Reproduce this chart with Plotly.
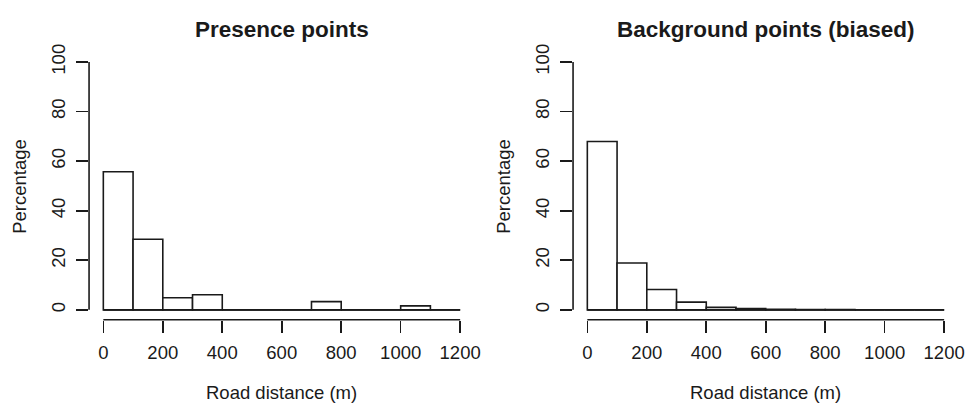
import plotly.graph_objects as go

# Histogram data (percentage per 100 m bin)
bin_edges = [0, 100, 200, 300, 400, 500, 600, 700, 800, 900, 1000, 1100, 1200]
presence_pct = [55.7, 28.5, 4.9, 6.1, 0, 0, 0, 3.3, 0, 0, 1.6, 0]
background_pct = [67.9, 18.9, 8.2, 3.1, 1.0, 0.5, 0.2, 0.1, 0.1, 0.0, 0.0, 0.0]
x_ticks = [0, 200, 400, 600, 800, 1000, 1200]
y_ticks = [0, 20, 40, 60, 80, 100]
titles = ["Presence points", "Background points (biased)"]
x_title = "Road distance (m)"
y_title = "Percentage"

FONT = "Liberation Sans, Arial, sans-serif"
INK = "#1a1a1a"
LW = 1.6

centers = [(a + b) / 2 for a, b in zip(bin_edges[:-1], bin_edges[1:])]
widths = [b - a for a, b in zip(bin_edges[:-1], bin_edges[1:])]

fig = go.Figure()

panels = [
    dict(vals=presence_pct, xa="x", ya="y", xdom=[0.0920, 0.4901]),
    dict(vals=background_pct, xa="x2", ya="y2", xdom=[0.5920, 0.9901]),
]
ydom = [0.2167, 0.8892]

for i, p in enumerate(panels):
    fig.add_trace(go.Bar(
        x=centers, y=p["vals"], width=widths,
        marker=dict(color="white", line=dict(color=INK, width=LW)),
        xaxis=p["xa"], yaxis=p["ya"], showlegend=False,
    ))
    # baseline across all bins (R draws empty bins as a flat line)
    fig.add_trace(go.Scatter(
        x=[bin_edges[0], bin_edges[-1]], y=[0, 0], mode="lines",
        line=dict(color=INK, width=LW), xaxis=p["xa"], yaxis=p["ya"],
        showlegend=False, hoverinfo="skip",
    ))
    sfx = "" if i == 0 else str(i + 1)
    axis_common = dict(
        showgrid=False, zeroline=False, showline=False,
        ticks="outside", ticklen=12, tickwidth=LW, tickcolor=INK,
        tickfont=dict(family=FONT, size=18.5, color=INK),
        fixedrange=True,
    )
    fig.update_layout(**{
        "xaxis" + sfx: dict(domain=p["xdom"], range=[-48, 1248], tickvals=x_ticks,
                            anchor="y" + sfx, ticklabelstandoff=4, **axis_common),
        "yaxis" + sfx: dict(domain=ydom, range=[-4, 104], tickvals=y_ticks,
                            anchor="x" + sfx, tickangle=-90, ticklabelstandoff=4,
                            **axis_common),
    })
    # R-style detached axis lines spanning only the tick range
    fig.add_shape(type="line", xref=p["xa"], yref=p["ya"] + " domain",
                  x0=x_ticks[0], x1=x_ticks[-1], y0=0, y1=0,
                  line=dict(color=INK, width=LW))
    fig.add_shape(type="line", xref=p["xa"] + " domain", yref=p["ya"],
                  x0=0, x1=0, y0=y_ticks[0], y1=y_ticks[-1],
                  line=dict(color=INK, width=LW))
    xc = (p["xdom"][0] + p["xdom"][1]) / 2
    fig.add_annotation(text="<b>" + titles[i] + "</b>", xref="paper", yref="paper",
                       x=xc, y=0.9458, xanchor="center", yanchor="middle",
                       showarrow=False, font=dict(family=FONT, size=22.5, color=INK))
    fig.add_annotation(text=x_title, xref="paper", yref="paper",
                       x=xc, y=0.0345, xanchor="center", yanchor="middle",
                       showarrow=False, font=dict(family=FONT, size=18.5, color=INK))
    fig.add_annotation(text=y_title, xref="paper", yref="paper",
                       x=p["xdom"][0] - 0.0715, y=(ydom[0] + ydom[1]) / 2,
                       xanchor="center", yanchor="middle", textangle=-90,
                       showarrow=False, font=dict(family=FONT, size=18.5, color=INK))

fig.update_layout(
    width=974, height=406,
    margin=dict(l=0, r=0, t=0, b=0),
    paper_bgcolor="white", plot_bgcolor="white",
    bargap=0, hovermode=False,
    font=dict(family=FONT, color=INK),
)

fig.write_html(
    "out.html",
    config={"displayModeBar": False, "staticPlot": True},
    post_script="document.body.style.margin='0';document.body.style.overflow='hidden';",
)
